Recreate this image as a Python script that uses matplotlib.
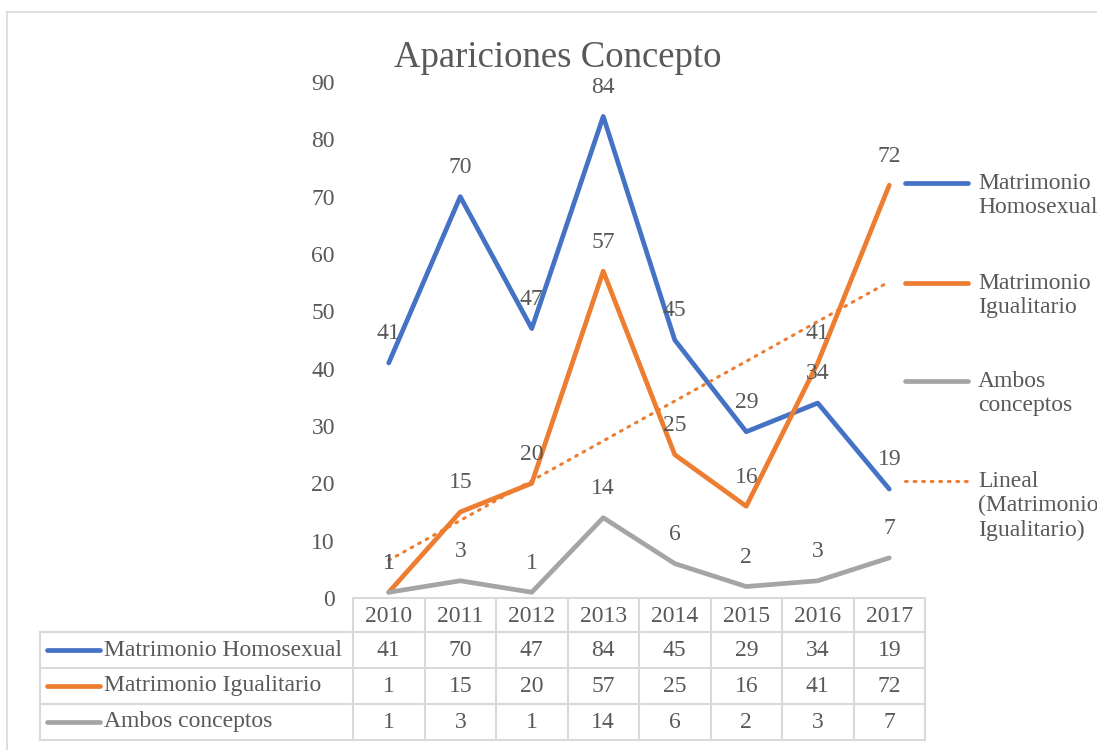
import numpy as np
import matplotlib
matplotlib.use("Agg")
import matplotlib.pyplot as plt

# ---- data ----
years       = ["2010", "2011", "2012", "2013", "2014", "2015", "2016", "2017"]
homosexual  = [41, 70, 47, 84, 45, 29, 34, 19]
igualitario = [1, 15, 20, 57, 25, 16, 41, 72]
ambos       = [1, 3, 1, 14, 6, 2, 3, 7]

series_names  = ["Matrimonio Homosexual", "Matrimonio Igualitario", "Ambos conceptos"]
legend_names  = ["Matrimonio\nHomosexual", "Matrimonio\nIgualitario", "Ambos\nconceptos",
                 "Lineal\n(Matrimonio\nIgualitario)"]
colors        = ["#4472C4", "#ED7D31", "#A5A5A5"]
txt_col       = "#595959"
grid_col      = "#D9D9D9"

plt.rcParams['font.family'] = ['Liberation Serif', 'DejaVu Serif']
fs = 17

W, H = 1097, 750
fig = plt.figure(figsize=(W / 100, H / 100), dpi=100)

# overlay in pixel coords for border, legend and table
over = fig.add_axes([0, 0, 1, 1])
over.set_xlim(0, W)
over.set_ylim(H, 0)
over.axis('off')

over.plot([7, W], [12, 12], color=grid_col, lw=1.2)
over.plot([7, 7], [12, H], color=grid_col, lw=1.2)

# main plot area
px_l, px_r, px_top, px_bot = 353, 925, 82, 598
ax = fig.add_axes([px_l / W, (H - px_bot) / H, (px_r - px_l) / W, (px_bot - px_top) / H])
ax.set_facecolor('none')
ax.set_zorder(2)
x = np.arange(len(years))
all_series = [homosexual, igualitario, ambos]
for vals, c in zip(all_series, colors):
    ax.plot(x, vals, color=c, lw=3.4, solid_capstyle='round', solid_joinstyle='round')

# linear trendline for Matrimonio Igualitario
k, b = np.polyfit(x, igualitario, 1)
ax.plot(x, k * x + b, color=colors[1], lw=2.2, linestyle=(0, (0.6, 2.2)), dash_capstyle='round')

for vals in all_series:
    for xi, v in zip(x, vals):
        ax.annotate(str(v), (xi, v), xytext=(0, 21), textcoords='offset points',
                    ha='center', va='center', fontsize=fs, color=txt_col)

ax.set_xlim(-0.5, len(years) - 0.5)
ax.set_ylim(0, 90)
ax.set_yticks(range(0, 91, 10))
ax.set_xticks([])
ax.tick_params(axis='y', length=0, pad=13, labelsize=fs, labelcolor=txt_col)
for s in ax.spines.values():
    s.set_visible(False)

over.text(558, 67, "Apariciones Concepto", fontsize=26.5, color=txt_col,
          ha='center', va='baseline')

# legend on the right
leg_y = [183, 283, 381, 481]
for i, (name, y) in enumerate(zip(legend_names, leg_y)):
    if i < 3:
        over.plot([905, 968], [y, y], color=colors[i], lw=3.4, solid_capstyle='round')
    else:
        over.plot([905, 968], [y, y], color=colors[1], lw=2.2,
                  linestyle=(0, (0.6, 2.2)), dash_capstyle='round')
    over.text(978, y - 10, name, fontsize=fs, color=txt_col, ha='left', va='top',
              linespacing=1.2)

# data table
col_w = (px_r - px_l) / len(years)
tab_l = 40
rows_y = [598, 632, 668, 704, 740]
lw_t = 1.5
over.plot([px_l, px_r], [rows_y[0], rows_y[0]], color=grid_col, lw=lw_t)
for r in rows_y[1:]:
    over.plot([tab_l, px_r], [r, r], color=grid_col, lw=lw_t)
over.plot([tab_l, tab_l], [rows_y[1], rows_y[-1]], color=grid_col, lw=lw_t)
for j in range(len(years) + 1):
    xx = px_l + j * col_w
    over.plot([xx, xx], [rows_y[0], rows_y[-1]], color=grid_col, lw=lw_t)

for j, yr in enumerate(years):
    cx = px_l + (j + 0.5) * col_w
    over.text(cx, (rows_y[0] + rows_y[1]) / 2 + 1, yr, ha='center', va='center',
              fontsize=fs, color=txt_col)
    for i, vals in enumerate(all_series):
        cy = (rows_y[i + 1] + rows_y[i + 2]) / 2
        over.text(cx, cy, str(vals[j]), ha='center', va='center', fontsize=fs, color=txt_col)

for i, name in enumerate(series_names):
    cy = (rows_y[i + 1] + rows_y[i + 2]) / 2
    over.plot([47, 100], [cy, cy], color=colors[i], lw=3.4, solid_capstyle='round')
    over.text(104, cy, name, ha='left', va='center', fontsize=fs, color=txt_col)

fig.savefig("out.png", dpi=100)
